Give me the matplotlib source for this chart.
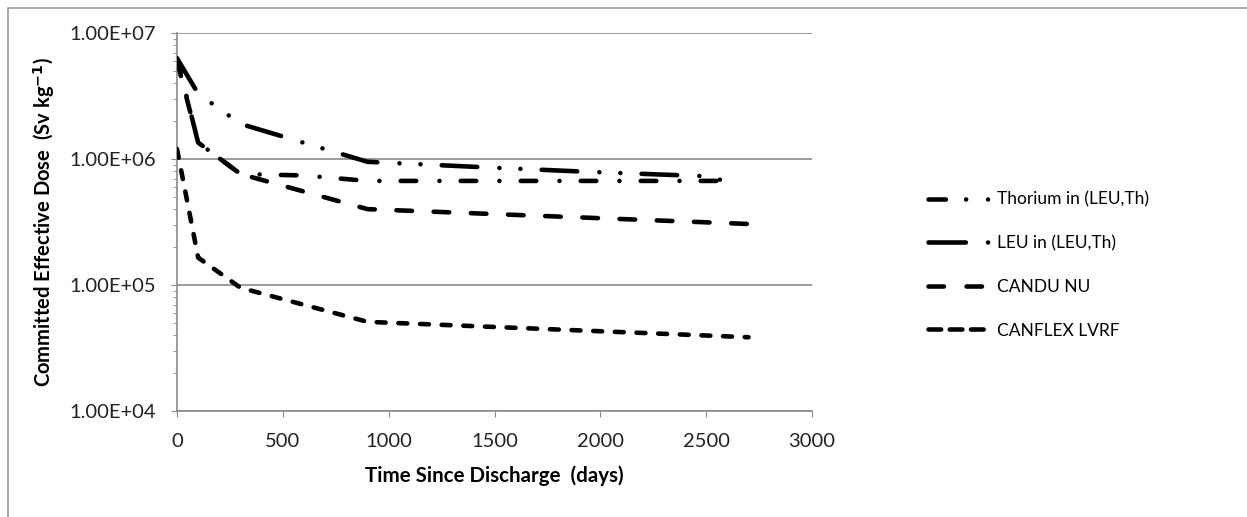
import numpy as np
import matplotlib
matplotlib.use("Agg")
from matplotlib import pyplot as plt
from matplotlib.lines import Line2D
from matplotlib.patches import Rectangle
from matplotlib.ticker import FuncFormatter, LogLocator, NullFormatter

plt.rcParams['font.family'] = ['Lato', 'DejaVu Sans']
plt.rcParams['lines.scale_dashes'] = False

# values
thorium_days = [0, 100, 300, 900, 1450, 1950, 2500, 2620]
thorium_dose = [6.3e6, 3.3e6, 1.9e6, 9.5e5, 8.6e5, 7.9e5, 7.3e5, 6.5e5]

leu_days = [0, 100, 300, 600, 900, 2620]
leu_dose = [6.3e6, 1.35e6, 7.6e5, 7.4e5, 6.7e5, 6.7e5]

candu_days = [0, 100, 300, 900, 2700]
candu_dose = [6.0e6, 1.35e6, 7.6e5, 4.0e5, 3.05e5]

canflex_days = [0, 100, 300, 900, 2700]
canflex_dose = [1.2e6, 1.65e5, 9.5e4, 5.1e4, 3.85e4]

labels = ["Thorium in (LEU,Th)", "LEU in (LEU,Th)", "CANDU NU", "CANFLEX LVRF"]

lw = 3.3
plot_dashes = [(0, (25.6, 16, 0.01, 15.1, 0.01, 15.3)),
               (0, (11.2, 16.7, 0.01, 15.3)),
               (0, (11.2, 15.6)),
               (0, (6.4, 9.2))]
legend_dashes = [(0, (12.5, 14.6, 0.01, 15.8, 0.01, 30)),
                 (0, (26.9, 16, 0.01, 30)),
                 (0, (11.1, 16.3)),
                 (0, (9.1, 6.2))]

fig = plt.figure(figsize=(12.47, 5.17), dpi=100)
ax = fig.add_axes([177/1247, 1 - 411/517, 635/1247, 378/517])

series = [(thorium_days, thorium_dose), (leu_days, leu_dose),
          (candu_days, candu_dose), (canflex_days, canflex_dose)]
for (d, v), ls in zip(series, plot_dashes):
    ax.plot(d, v, color='black', lw=lw, ls=ls, dash_capstyle='round',
            solid_capstyle='round', zorder=3)

ax.set_yscale('log')
ax.set_ylim(1e4, 1e7)
ax.set_xlim(0, 3000)
ax.set_xticks(np.arange(0, 3001, 500))
ax.yaxis.set_major_locator(LogLocator(base=10, numticks=10))
ax.yaxis.set_minor_locator(LogLocator(base=10, subs=np.arange(2, 10), numticks=10))
ax.yaxis.set_minor_formatter(NullFormatter())
ax.yaxis.set_major_formatter(FuncFormatter(lambda v, p: f"{v:.2E}"))

grey = '#8a8a8a'
ax.grid(axis='y', which='major', color=grey, lw=1.2)
ax.set_axisbelow(True)
for s in ['top', 'right']:
    ax.spines[s].set_visible(False)
for s in ['left', 'bottom']:
    ax.spines[s].set_color(grey)
    ax.spines[s].set_linewidth(1.2)
ax.tick_params(axis='both', which='major', direction='out', length=4,
               color=grey, labelsize=14.5, labelcolor='#222222')
ax.tick_params(axis='y', which='major', pad=11)
ax.tick_params(axis='x', which='major', pad=12)
ax.tick_params(axis='y', which='minor', direction='out', length=3, color=grey)

ax.set_xlabel("Time Since Discharge  (days)", fontsize=14.8, fontweight='bold',
              labelpad=11)
ax.set_ylabel(r"Committed Effective Dose  (Sv kg$^{\mathbf{-1}}$)", fontsize=14.5,
              fontweight='bold', labelpad=9)

handles = [Line2D([], [], color='black', lw=lw, ls=ls, dash_capstyle='round')
           for ls in legend_dashes]
ax.legend(handles, labels, loc='upper left', bbox_to_anchor=(928/1247, 1 - 191.5/517),
          bbox_transform=fig.transFigure, frameon=False, fontsize=12.5,
          handlelength=3.47, handletextpad=0.52, labelspacing=1.59,
          borderpad=0, borderaxespad=0)

fig.patches.append(Rectangle((7.5/1247, -0.2), 1.2, 1.2 - 7.5/517,
                             transform=fig.transFigure, fill=False,
                             edgecolor='#9a9a9a', lw=1.2))

plt.savefig("out.png", dpi=100)
